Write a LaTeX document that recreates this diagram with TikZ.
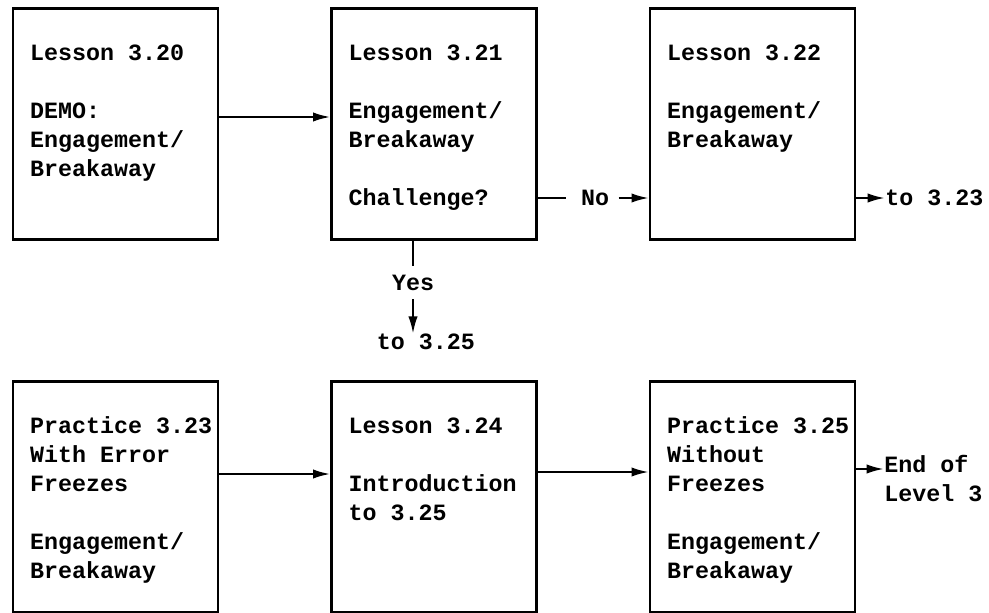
\documentclass[tikz,border=0pt]{standalone}
\usepackage{fontspec}
\setmonofont{Liberation Mono}
\usetikzlibrary{arrows.meta}
\tikzset{
  box/.style={draw,line width=1.7pt,minimum width=153.75pt,minimum height=173.25pt,inner sep=0pt},
  txt/.style={anchor=north west,align=left,inner sep=0pt,font=\ttfamily\bfseries\fontsize{17.5}{21.75}\selectfont},
  lbl/.style={inner sep=0pt,font=\ttfamily\bfseries\fontsize{17.5}{21.75}\selectfont},
  arr/.style={line width=1.7pt,-{Latex[length=13pt,width=7pt]}},
  ln/.style={line width=1.7pt}
}

\begin{document}
\begin{tikzpicture}[x=0.75pt,y=-0.75pt]
    \useasboundingbox (0,0) rectangle (989,613);
    % upper row
    \node[box] (b1) at (115.5,124) {};
    \node[box] (b2) at (434,124) {};
    \node[box] (b3) at (752.5,124) {};
    % lower row
    \node[box] (b4) at (115.5,497) {};
    \node[box] (b5) at (434,497) {};
    \node[box] (b6) at (752.5,497) {};

    \node[txt] (t1) at ([shift={(18,32.7)}]b1.north west) {\strut Lesson 3.20\\[21.75pt]DEMO:\\Engagement/\\Breakaway};
    \node[txt] (t2) at ([shift={(18,32.7)}]b2.north west) {\strut Lesson 3.21\\[21.75pt]Engagement/\\Breakaway\\[21.75pt]Challenge?};
    \node[txt] (t3) at ([shift={(18,32.7)}]b3.north west) {\strut Lesson 3.22\\[21.75pt]Engagement/\\Breakaway};
    \node[txt] (t4) at ([shift={(18,32.7)}]b4.north west) {\strut Practice 3.23\\With Error\\Freezes\\[21.75pt]Engagement/\\Breakaway};
    \node[txt] (t5) at ([shift={(18,32.7)}]b5.north west) {\strut Lesson 3.24\\[21.75pt]Introduction\\to 3.25};
    \node[txt] (t6) at ([shift={(18,32.7)}]b6.north west) {\strut Practice 3.25\\Without\\Freezes\\[21.75pt]Engagement/\\Breakaway};

    \node[lbl] (no) at (595,198) {No};
    \node[lbl,anchor=west] (to23) at (885,198) {to 3.23};
    \node[lbl] (yes) at (413,283) {Yes};
    \node[lbl] (to25) at (426,342) {to 3.25};
    \node[txt] (end) at (884,451.7) {\strut End of\\Level 3};

    \draw[arr](b1.east |- 0,117)--(b2.west |- 0,117);
    \draw[ln](b2.east |- no)--([xshift=-11pt]no.west);
    \draw[arr]([xshift=7pt]no.east)--(b3.west |- no);
    \draw[arr](b3.east |- to23)--(to23.west);
    \draw[ln](yes |- b2.south)--([yshift=7pt]yes.north);
    \draw[arr]([yshift=-6pt]yes.south)--(yes |- to25.north);
    \draw[arr](b4.east |- 0,474)--(b5.west |- 0,474);
    \draw[arr](b5.east |- 0,472)--(b6.west |- 0,472);
    \draw[arr](b6.east |- 0,469)--(end.west |- 0,469);
\end{tikzpicture}
\end{document}
